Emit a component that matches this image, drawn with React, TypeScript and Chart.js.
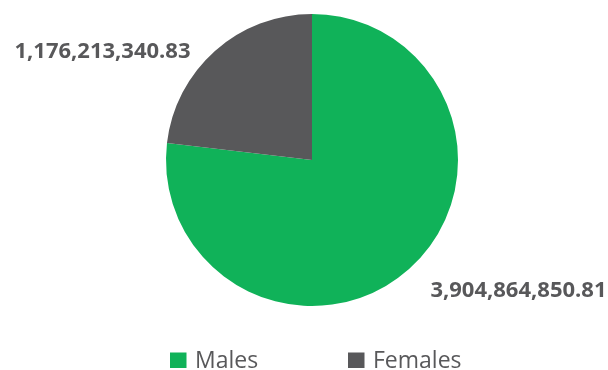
import React, { useEffect, useRef } from "react";
import { Chart, registerables } from "chart.js";

Chart.register(...registerables);

const categories = ["Males", "Females"];
const values = [3904864850.81, 1176213340.83];
const valueLabels = ["3,904,864,850.81", "1,176,213,340.83"];
const colors = ["#10b259", "#58585a"];
// label anchor offsets (text baseline centre) in units of radius (style only)
const labelOffsets = [
  [1.414, 0.938],
  [-1.435, -0.7],
];

const labelPlugin = {
  id: "customLabels",
  afterDraw(chart: any) {
    const ctx = chart.ctx;
    const meta = chart.getDatasetMeta(0);
    const arc = meta.data[0];
    if (!arc) return;
    const cx = arc.x;
    const cy = arc.y;
    const r = arc.outerRadius;
    ctx.save();
    ctx.fillStyle = "#58585a";
    ctx.font = "bold 22px 'Open Sans'";
    ctx.textAlign = "center";
    ctx.textBaseline = "alphabetic";
    valueLabels.forEach((t, i) => {
      const [fx, fy] = labelOffsets[i];
      ctx.fillText(t, cx + fx * r, cy + fy * r);
    });
    // legend
    ctx.font = "23px 'Open Sans'";
    ctx.textAlign = "left";
    ctx.textBaseline = "alphabetic";
    const baseline = 368;
    const legendX = [170, 348];
    categories.forEach((c, i) => {
      ctx.fillStyle = colors[i];
      ctx.fillRect(legendX[i], baseline - 15.5, 16.5, 15.5);
      ctx.fillStyle = "#58585a";
      ctx.fillText(c, legendX[i] + 25, baseline);
    });
    ctx.restore();
  },
};

export default function App() {
  const ref = useRef<HTMLCanvasElement>(null);
  useEffect(() => {
    document.body.style.margin = "0";
    const chart = new Chart(ref.current!, {
      type: "pie",
      data: {
        labels: categories,
        datasets: [
          {
            data: values,
            backgroundColor: colors,
            borderWidth: 0,
          },
        ],
      },
      options: {
        animation: false,
        responsive: false,
        layout: { padding: { top: 14, bottom: 64, left: 166, right: 150 } },
        plugins: { legend: { display: false }, tooltip: { enabled: false } },
      },
      plugins: [labelPlugin],
    });
    return () => chart.destroy();
  }, []);
  return (
    <div style={{ width: 608, height: 370, background: "#fff" }}>
      <canvas ref={ref} width={608} height={370} />
    </div>
  );
}
